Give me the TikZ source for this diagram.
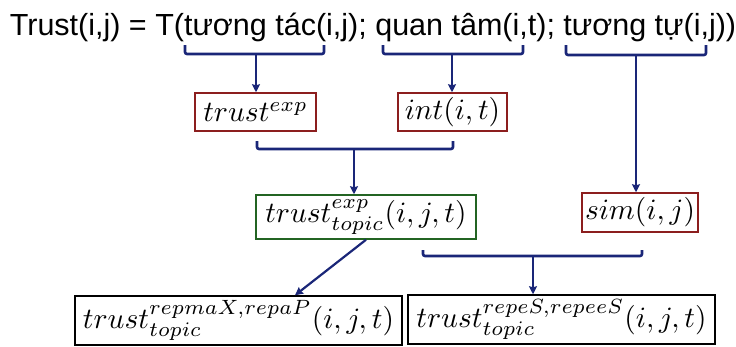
\documentclass[tikz,border=0pt]{standalone}
\usepackage{graphicx}
\usepackage{fontspec}
\newfontfamily\titlefont{Liberation Sans}
\usetikzlibrary{arrows.meta}

\definecolor{navyline}{RGB}{26,38,120}
\definecolor{boxred}{RGB}{140,30,30}
\definecolor{boxgreen}{RGB}{35,100,35}

% math set large by scaling the 10pt formula
\newcommand{\mtxt}[1]{\scalebox{2.95}{$#1$}}

\tikzset{
  mbox/.style={draw, line width=1.5pt, inner sep=0pt, anchor=center},
  redbox/.style={mbox, draw=boxred},
  greenbox/.style={mbox, draw=boxgreen},
  blackbox/.style={mbox, draw=black},
  brace/.style={draw=navyline, line width=2.6pt, rounded corners=2pt},
  link/.style={draw=navyline, line width=2.2pt,
    -{Stealth[length=8pt,width=8pt,inset=1pt]}},
}

\begin{document}
\begin{tikzpicture}[x=1pt,y=-1pt]
\useasboundingbox (0,0) rectangle (736,346);

% formula line
\node[anchor=base, inner sep=0pt, font=\titlefont\fontsize{30.5}{36}\selectfont]
  (title) at (373,35) {Trust(i,j) = T(tương tác(i,j); quan tâm(i,t); tương tự(i,j))};

% boxes
\node[redbox, minimum width=121pt, minimum height=38pt] (te) at (255.5,112) {\mtxt{trust^{exp}}};
\node[redbox, minimum width=109pt, minimum height=38pt] (it) at (452.5,112) {\mtxt{int(i,t)}};
\node[greenbox, minimum width=220pt, minimum height=44pt] (tt) at (366,217) {\mtxt{trust^{exp}_{topic}(i,j,t)}};
\node[redbox, minimum width=116pt, minimum height=39pt] (sm) at (640,212.5) {\mtxt{sim(i,j)}};
\node[blackbox, minimum width=327pt, minimum height=49pt] (bl) at (238.5,320.5) {\mtxt{trust^{repmaX,repaP}_{topic}(i,j,t)}};
\node[blackbox, minimum width=307pt, minimum height=49pt] (br) at (561.5,319.5) {\mtxt{trust^{repeS,repeeS}_{topic}(i,j,t)}};

% braces under the formula and between levels
\draw[brace] (185,45) |- (324,54) -- (324,45);
\coordinate (b1) at (256,54);
\draw[brace] (383,45) |- (523,54) -- (523,45);
\coordinate (b2) at (452,54);
\draw[brace] (566,45) |- (706,55) -- (706,45);
\coordinate (b3) at (636,55);
\draw[brace] (257,141) |- (453,149) -- (453,141);
\coordinate (b4) at (354,149);
\draw[brace] (423,250) |- (642,256) -- (642,250);
\coordinate (b5) at (533,256);

% connectors
\draw[link] (b1) -- (b1 |- te.north);
\draw[link] (b2) -- (b2 |- it.north);
\draw[link] (b3) -- (b3 |- sm.north);
\draw[link] (b4) -- (b4 |- tt.north);
\draw[link] (b5) -- (b5 |- br.north);
\coordinate (dtip) at ([xshift=56.5pt]bl.north);
\draw[link] (tt.south) -- (dtip);
\end{tikzpicture}
\end{document}
